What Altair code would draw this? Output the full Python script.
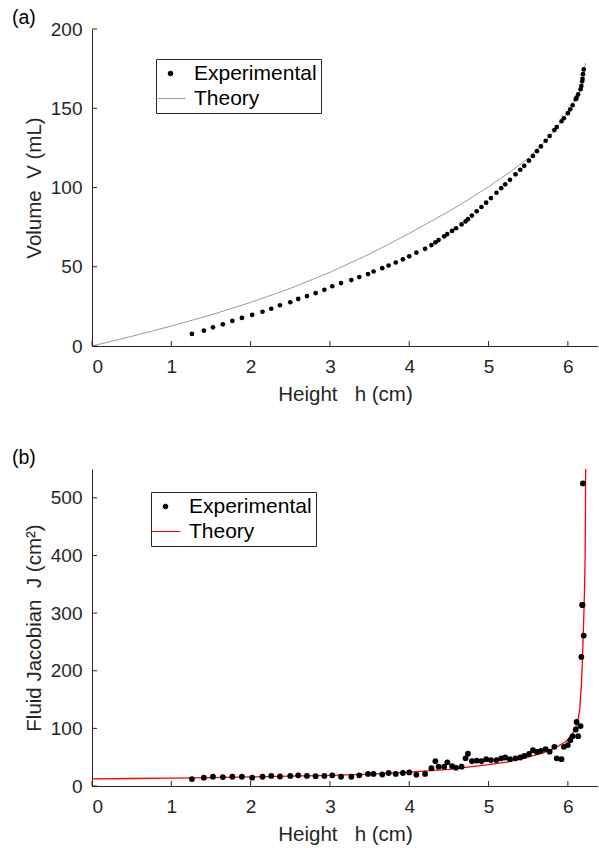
import altair as alt
import pandas as pd

# ---------------- data ----------------
h_exp = [1.26, 1.41, 1.525, 1.65, 1.77, 1.89, 2.02, 2.15, 2.26, 2.37, 2.50, 2.60, 2.71, 2.82,
         2.93, 3.03, 3.14, 3.27, 3.37, 3.48, 3.55, 3.66, 3.74, 3.83, 3.92, 4.00, 4.09, 4.20,
         4.28, 4.33, 4.37, 4.44, 4.48, 4.54, 4.59, 4.66, 4.71, 4.74, 4.79, 4.85, 4.91, 4.97,
         5.03, 5.10, 5.16, 5.21, 5.27, 5.34, 5.40, 5.45, 5.51, 5.56, 5.61, 5.66, 5.72, 5.77,
         5.83, 5.86, 5.92, 5.95, 6.00, 6.03, 6.06, 6.10, 6.11, 6.13, 6.16, 6.17, 6.18, 6.185,
         6.19, 6.20]
V_exp = [7.6, 9.7, 11.8, 13.7, 15.8, 17.7, 19.6, 21.6, 23.5, 25.7, 27.6, 29.7, 31.5, 33.4,
         35.5, 37.7, 39.7, 41.6, 43.5, 45.4, 47.0, 49.1, 50.8, 52.7, 54.7, 56.6, 58.9, 61.3,
         63.7, 65.4, 66.8, 69.2, 70.6, 72.6, 74.3, 76.7, 78.6, 80.0, 82.3, 85.0, 87.7, 90.4,
         93.3, 96.7, 99.6, 102.0, 104.9, 108.3, 111.2, 113.7, 116.9, 119.9, 122.9, 125.9, 129.5, 132.5,
         136.2, 138.1, 141.8, 143.7, 146.9, 149.3, 151.9, 155.7, 156.7, 158.7, 162.0, 164.0, 167.0, 168.5,
         171.5, 174.5]
J_exp = [12.0, 14.5, 16.0, 15.5, 16.0, 16.0, 14.5, 16.0, 17.5, 16.5, 17.5, 18.5, 17.5, 17.0,
         17.5, 18.5, 16.0, 16.0, 18.5, 21.0, 21.0, 20.0, 22.5, 21.0, 22.5, 23.5, 19.5, 21.0,
         31.0, 43.0, 33.5, 33.5, 41.0, 34.5, 31.5, 33.5, 48.0, 56.0, 43.0, 44.0, 43.0, 46.5,
         45.0, 45.0, 48.0, 49.5, 46.5, 48.0, 49.5, 52.0, 55.5, 62.0, 59.0, 61.0, 64.0, 59.5,
         68.0, 48.0, 46.5, 68.0, 71.0, 79.5, 86.5, 98.0, 111.0, 86.5, 104.0, 224.0, 314.0, 314.0,
         525.0, 261.0]

h_thV = [0, 0.25, 0.5, 0.75, 1.0, 1.5, 2.0, 2.5, 3.0, 3.5, 4.0, 4.5, 4.75, 5.0, 5.25, 5.5,
         5.75, 5.9, 6.0, 6.05, 6.1, 6.15, 6.18, 6.2, 6.21, 6.22]
V_th = [0, 3.0, 6.1, 9.3, 12.6, 19.6, 27.5, 36.3, 46.5, 58.0, 71.0, 85.0, 92.5, 100.5, 109.0, 118.5,
        131.0, 140.5, 147.5, 151.5, 156.0, 161.0, 165.5, 170.0, 173.5, 178.5]

h_thJ = [0, 0.5, 1.0, 1.5, 2.0, 2.5, 3.0, 3.5, 4.0, 4.5, 5.0, 5.25, 5.5, 5.7, 5.85, 5.95, 6.0,
         6.05, 6.1, 6.13, 6.15, 6.17, 6.18, 6.19, 6.2, 6.21, 6.218, 6.222, 6.224]
J_th = [12.5, 13.0, 13.8, 14.7, 15.8, 17.0, 18.5, 20.5, 24.0, 29.0, 37.0, 42.0, 50.0, 58.0, 67.0,
        75.0, 80.0, 89.0, 102.0, 116.0, 133.0, 175.0, 205.0, 245.0, 290.0, 340.0, 400.0, 480.0, 550.0]

x_ticks = [0, 1, 2, 3, 4, 5, 6]
yV_ticks = [0, 50, 100, 150, 200]
yJ_ticks = [0, 100, 200, 300, 400, 500]

# ---------------- styling ----------------
W, H = 506, 317
AX = "#262626"
FONT = "Liberation Sans"
GRAY = "#9a9a9a"
RED = "#ff0000"
XMAX = 6.38
NB = "\u00a0"

exp_df = pd.DataFrame({"h": h_exp, "V": V_exp, "J": J_exp, "series": "Experimental"})
thV_df = pd.DataFrame({"h": h_thV, "V": V_th, "series": "Theory"})
thJ_df = pd.DataFrame({"h": h_thJ, "J": J_th, "series": "Theory"})
xt_df = pd.DataFrame({"t": x_ticks})
yVt_df = pd.DataFrame({"t": yV_ticks})
yJt_df = pd.DataFrame({"t": yJ_ticks})


def make_legend(theory_color, lx, ly):
    return alt.Legend(
        title=None, orient="none", legendX=lx, legendY=ly,
        strokeColor=AX, fillColor="white", padding=4, cornerRadius=0,
        labelFont=FONT, labelFontSize=21, labelColor="black", labelOffset=13,
        rowPadding=3, symbolStrokeWidth=1, symbolOpacity=1,
        symbolType=alt.ExprRef("datum.value === 'Theory' ? 'stroke' : 'circle'"),
        symbolSize=alt.ExprRef("datum.value === 'Theory' ? 900 : 22"),
        symbolFillColor=alt.ExprRef("datum.value === 'Theory' ? 'transparent' : 'black'"),
        symbolStrokeColor=alt.ExprRef("datum.value === 'Theory' ? '%s' : 'black'" % theory_color),
    )


def panel(ycol, ydomain, yticks, ttl, ytitle, th_df, th_color, th_width, pt_size, lx, ly, yt_df):
    xs = alt.Scale(domain=[0, XMAX], nice=False, zero=False)
    ys = alt.Scale(domain=ydomain, nice=False, zero=False)
    cs = alt.Scale(domain=["Experimental", "Theory"], range=["black", th_color])
    leg = make_legend(th_color, lx, ly)
    xax = alt.Axis(values=x_ticks, ticks=False, labelPadding=11,
                   title=f"Height{NB}{NB}{NB}h{NB}(cm)",
                   titlePadding=8, grid=False, format="d")
    yax = alt.Axis(values=yticks, ticks=False, labelPadding=10, title=ytitle,
                   titlePadding=6, grid=False, format="d")
    line = alt.Chart(th_df).mark_line(strokeWidth=th_width).encode(
        x=alt.X("h:Q", scale=xs, axis=xax),
        y=alt.Y(f"{ycol}:Q", scale=ys, axis=yax),
        color=alt.Color("series:N", scale=cs, legend=leg),
    )
    pts = alt.Chart(exp_df).mark_point(filled=True, size=pt_size, opacity=1).encode(
        x=alt.X("h:Q", scale=xs),
        y=alt.Y(f"{ycol}:Q", scale=ys),
        color=alt.Color("series:N", scale=cs, legend=leg),
    )
    xt = alt.Chart(xt_df).mark_rule(color=AX, strokeWidth=1).encode(
        x=alt.X("t:Q", scale=xs), y=alt.value(H), y2=alt.value(H - 5))
    yt = alt.Chart(yt_df).mark_rule(color=AX, strokeWidth=1).encode(
        y=alt.Y("t:Q", scale=ys), x=alt.value(0), x2=alt.value(5))
    lab = alt.Chart(pd.DataFrame({"t": [ttl]})).mark_text(
        align="left", baseline="alphabetic", font=FONT, fontSize=19.5, color="black"
    ).encode(x=alt.value(-80), y=alt.value(-5), text="t:N")
    return alt.layer(line, pts, xt, yt, lab).properties(width=W, height=H)


top = panel("V", [0, 200], yV_ticks, "(a)", f"Volume{NB}{NB}V{NB}(mL)",
            thV_df, GRAY, 1.0, 22, 64, 30, yVt_df)
bot = panel("J", [0, 550], yJ_ticks, "(b)", f"Fluid{NB}Jacobian{NB}{NB}J{NB}(cm²)",
            thJ_df, RED, 1.3, 34, 59, 23, yJt_df)

chart = alt.vconcat(top, bot, spacing=43).resolve_scale(
    color="independent", x="independent", y="independent"
).resolve_legend(color="independent").properties(
    padding={"left": 12, "top": 8, "right": 0, "bottom": 0},
).configure_view(stroke=None).configure_axis(
    domainColor=AX, domainWidth=1, labelFont=FONT, labelFontSize=19, labelColor=AX,
    titleFont=FONT, titleFontSize=20.5, titleColor=AX, titleFontWeight="normal",
).configure_legend(
    labelFont=FONT,
)

chart.save("out.html", embed_options={"renderer": "svg", "actions": False})
